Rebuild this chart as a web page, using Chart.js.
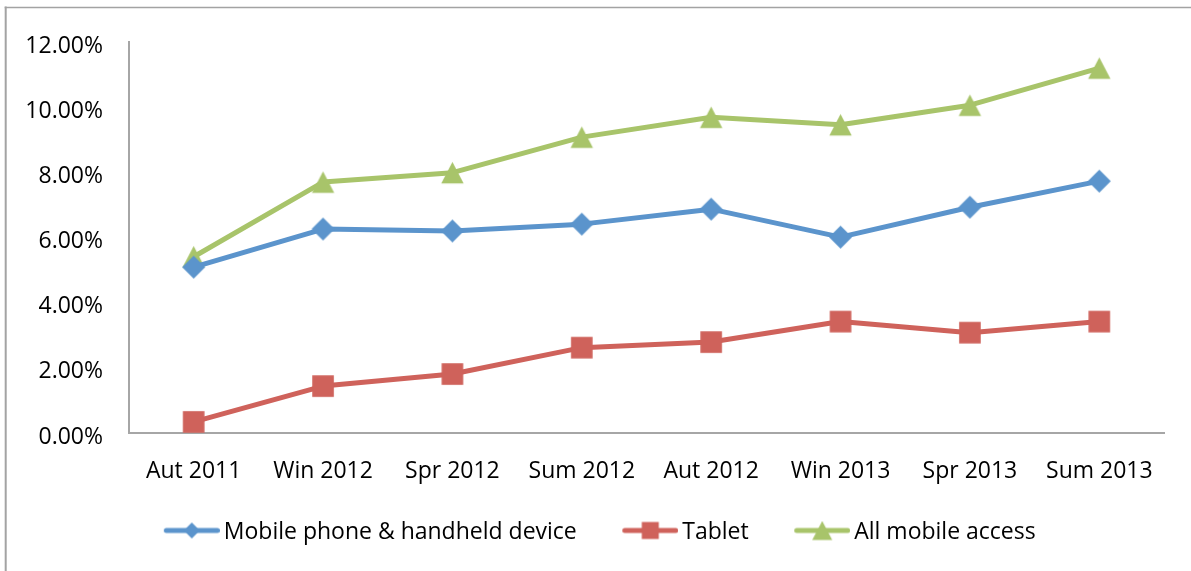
<!DOCTYPE html>
<html>
<head>
<meta charset="utf-8">
<title>Mobile access share by season</title>
<script src="https://cdn.jsdelivr.net/npm/chart.js@4/dist/chart.umd.min.js"></script>
<style>
  html, body { margin: 0; padding: 0; background: #fff; }
  #wrap { position: relative; width: 1191px; height: 571px; }
</style>
</head>
<body>
<div id="wrap"><canvas id="chart" width="1191" height="571"></canvas></div>
<script>
// Season labels along the x axis
const categories = ['Aut 2011', 'Win 2012', 'Spr 2012', 'Sum 2012', 'Aut 2012', 'Win 2013', 'Spr 2013', 'Sum 2013'];

// Share of visits (%) per device type
const mobilePhone = [5.09, 6.26, 6.20, 6.41, 6.87, 6.01, 6.93, 7.73];
const tablet      = [0.34, 1.44, 1.81, 2.62, 2.79, 3.42, 3.08, 3.42];
const allMobile   = [5.41, 7.70, 7.99, 9.08, 9.69, 9.46, 10.06, 11.20];

const seriesNames = ['Mobile phone & handheld device', 'Tablet', 'All mobile access'];

// Y axis: 0% .. 12% in steps of 2%
const yMin = 0, yMax = 12, yStep = 2;

const BLUE = '#5b94cc', RED = '#cf625b', GREEN = '#a8c46a';
const FONT = "'Open Sans', 'Noto Sans', sans-serif";

// ---- marker images -------------------------------------------------------
function makeCanvas(w, h) {
  const c = document.createElement('canvas');
  c.width = w; c.height = h;
  return c;
}
function drawMarker(ctx, kind, cx, cy, s, color) {
  ctx.fillStyle = color;
  ctx.beginPath();
  if (kind === 'diamond') {
    ctx.moveTo(cx, cy - s); ctx.lineTo(cx + s, cy); ctx.lineTo(cx, cy + s); ctx.lineTo(cx - s, cy);
  } else if (kind === 'square') {
    ctx.rect(cx - s, cy - s, 2 * s, 2 * s);
  } else {
    const hw = s, hh = s * 0.95;
    ctx.moveTo(cx, cy - hh); ctx.lineTo(cx + hw, cy + hh); ctx.lineTo(cx - hw, cy + hh);
  }
  ctx.closePath();
  ctx.fill();
}
function markerImage(kind, s, color) {
  const size = Math.ceil(2 * s + 2);
  const c = makeCanvas(size, size);
  drawMarker(c.getContext('2d'), kind, size / 2, size / 2, s, color);
  return c;
}
// Legend swatch: short line with the marker in its middle.
// A transparent margin on the left sets the gap before each entry.
const LEG_BOX = 84, LEG_LINE = 56, LEG_IMG_W = LEG_BOX + 15, LEG_IMG_H = 24;
function legendImage(kind, s, color) {
  const c = makeCanvas(LEG_IMG_W, LEG_IMG_H);
  const ctx = c.getContext('2d');
  const x1 = LEG_IMG_W - LEG_LINE + 2.5, x2 = LEG_IMG_W - 2.5, cy = LEG_IMG_H / 2 - 2;
  ctx.strokeStyle = color; ctx.lineWidth = 5; ctx.lineCap = 'round';
  ctx.beginPath(); ctx.moveTo(x1, cy); ctx.lineTo(x2, cy); ctx.stroke();
  drawMarker(ctx, kind, (x1 + x2) / 2, cy, s, color);
  return c;
}

const kinds  = ['diamond', 'square', 'triangle'];
const colors = [BLUE, RED, GREEN];
const pointImgs  = [markerImage('diamond', 11.5, BLUE), markerImage('square', 10.8, RED), markerImage('triangle', 11.2, GREEN)];
const legendImgs = [legendImage('diamond', 8, BLUE), legendImage('square', 8.5, RED), legendImage('triangle', 10, GREEN)];

// ---- outer frame ---------------------------------------------------------
const framePlugin = {
  id: 'frame',
  beforeDraw(chart) {
    const ctx = chart.ctx;
    ctx.save();
    ctx.strokeStyle = '#a3a3a3';
    ctx.lineWidth = 2;
    ctx.beginPath(); ctx.moveTo(5.7, 6.5); ctx.lineTo(5.7, 571); ctx.stroke();
    ctx.lineWidth = 1.6;
    ctx.beginPath(); ctx.moveTo(4.7, 7.5); ctx.lineTo(1191, 7.5); ctx.stroke();
    ctx.restore();
  }
};

function series(i, data) {
  return {
    label: seriesNames[i],
    data: data,
    borderColor: colors[i],
    backgroundColor: colors[i],
    borderWidth: 5,
    borderJoinStyle: 'round',
    borderCapStyle: 'round',
    tension: 0,
    pointStyle: pointImgs[i],
    pointRadius: 10,
    pointHoverRadius: 10,
    fill: false
  };
}

new Chart(document.getElementById('chart'), {
  type: 'line',
  data: {
    labels: categories,
    datasets: [series(0, mobilePhone), series(1, tablet), series(2, allMobile)]
  },
  plugins: [framePlugin],
  options: {
    responsive: false,
    animation: false,
    devicePixelRatio: 1,
    layout: { padding: { top: 42, right: 27, bottom: 17, left: 0 } },
    font: { family: FONT, size: 23 },
    scales: {
      x: {
        offset: true,
        grid: { display: false, drawTicks: false },
        border: { display: true, color: '#a6a6a6', width: 2 },
        ticks: { color: '#000', padding: 25, maxRotation: 0, autoSkip: false, font: { family: FONT, size: 23 } },
        afterFit(scale) { scale.height = 78; }
      },
      y: {
        min: yMin, max: yMax,
        grid: { display: false, drawTicks: false },
        border: { display: true, color: '#a6a6a6', width: 2 },
        ticks: {
          stepSize: yStep, color: '#000', padding: 26, labelOffset: 4,
          font: { family: FONT, size: 23 },
          callback: v => v.toFixed(2) + '%'
        },
        afterFit(scale) { scale.width = 129; }
      }
    },
    plugins: {
      tooltip: { enabled: false },
      legend: {
        position: 'bottom',
        labels: {
          color: '#000',
          padding: 10,
          usePointStyle: true,
          pointStyleWidth: LEG_BOX,
          font: { family: FONT, size: 23 },
          generateLabels(chart) {
            return chart.data.datasets.map((ds, i) => ({
              text: ds.label,
              pointStyle: legendImgs[i],
              fillStyle: colors[i],
              strokeStyle: colors[i],
              lineWidth: 0,
              hidden: false,
              datasetIndex: i,
              fontColor: '#000'
            }));
          }
        }
      }
    }
  }
});
</script>
</body>
</html>
